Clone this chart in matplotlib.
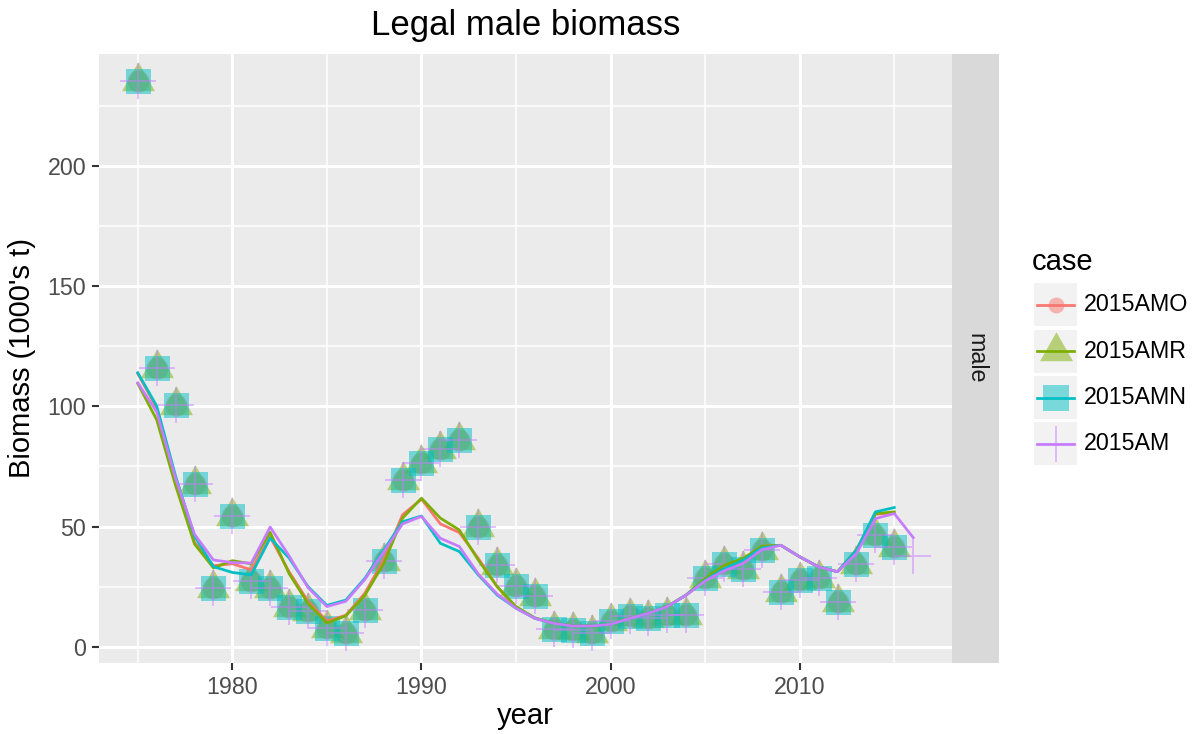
import matplotlib
matplotlib.use("Agg")
import matplotlib.pyplot as plt
from matplotlib.patches import Rectangle

plt.rcParams['font.family'] = ['Liberation Sans', 'DejaVu Sans']

# ---- data -------------------------------------------------------------
years = list(range(1975, 2016))
years_am = list(range(1975, 2017))

# observed legal male biomass (1000's t), shared by every case
obs = [235.3, 116.0, 100.7, 67.8, 24.6, 54.2, 27.4, 24.6, 16.4, 14.8,
       7.9, 5.7, 15.1, 35.6, 69.3, 76.6, 82.2, 85.9, 49.7, 34.0,
       25.2, 21.0, 7.5, 7.0, 5.8, 10.5, 12.8, 12.0, 13.3, 13.3,
       28.4, 34.6, 32.5, 40.2, 22.9, 27.7, 28.4, 18.7, 34.6, 46.4,
       41.5]
obs_am = obs + [37.7]

cases = ["2015AMO", "2015AMR", "2015AMN", "2015AM"]
colors = ["#F8766D", "#7CAE00", "#00BFC4", "#C77CFF"]

pred_amo = [113.6, 99.3, 69.0, 43.5, 33.7, 34.5, 32.0, 45.6, 31.2, 18.9,
            10.7, 13.1, 22.2, 36.1, 54.9, 61.4, 51.1, 47.5, 36.8, 25.0,
            16.2, 11.8, 9.7, 8.6, 8.6, 9.3, 11.8, 13.9, 16.7, 21.5,
            27.7, 33.2, 35.5, 41.8, 42.2, 37.4, 33.2, 31.2, 40.2, 55.1,
            55.7]
pred_amr = [109.5, 94.4, 67.0, 42.7, 32.8, 35.8, 34.5, 47.6, 30.4, 18.0,
            9.9, 12.8, 21.3, 34.5, 53.5, 61.8, 53.5, 48.6, 36.1, 25.0,
            16.7, 12.0, 9.8, 8.7, 8.6, 9.4, 11.9, 14.0, 16.8, 21.6,
            28.4, 33.9, 36.7, 41.8, 42.2, 37.4, 33.2, 31.2, 40.2, 55.4,
            56.1]
pred_amn = [114.0, 100.2, 71.0, 46.0, 33.3, 30.9, 29.9, 45.2, 36.9, 25.0,
            17.2, 19.4, 28.4, 40.2, 52.0, 54.4, 43.0, 39.6, 29.9, 21.5,
            16.0, 11.8, 9.7, 8.6, 8.6, 9.3, 11.8, 13.9, 16.7, 21.5,
            27.7, 32.5, 36.0, 41.1, 42.2, 37.4, 33.2, 31.2, 40.2, 56.1,
            57.9]
pred_am = [109.8, 97.7, 70.0, 46.8, 36.1, 35.0, 34.8, 49.8, 37.8, 24.6,
           16.7, 18.9, 27.9, 39.4, 51.1, 54.2, 45.1, 41.7, 30.3, 21.9,
           16.0, 11.8, 9.7, 8.6, 8.6, 9.3, 11.8, 13.9, 16.7, 21.5,
           27.4, 31.6, 34.6, 40.4, 42.2, 37.4, 33.2, 31.2, 38.8, 53.3,
           55.4, 45.4]

y_ticks = [0, 50, 100, 150, 200]
x_ticks = [1980, 1990, 2000, 2010]

# ---- figure geometry (pixels) ----------------------------------------
W, H, DPI = 1201, 734, 150
px = 72.0 / DPI          # points per pixel
p_left, p_right, p_top, p_bot = 99, 952, 54, 663
s_right = 999

FS_TICK, FS_AXIS, FS_TITLE, FS_LEG = 11.2, 14.0, 16.7, 11.2

fig = plt.figure(figsize=(W / DPI, H / DPI), dpi=DPI)
ax = fig.add_axes([p_left / W, 1 - p_bot / H,
                   (p_right - p_left) / W, (p_bot - p_top) / H])
ax.set_facecolor("#EBEBEB")
for s in ax.spines.values():
    s.set_visible(False)

ax.set_xlim(1972.95, 2018.05)
ax.set_ylim(-6.78, 246.6)
ax.set_xticks(x_ticks)
ax.set_yticks(y_ticks)
ax.set_xticks([1975, 1985, 1995, 2005, 2015], minor=True)
ax.set_yticks([25, 75, 125, 175, 225], minor=True)
ax.grid(True, which="major", color="white", lw=1.45)
ax.grid(True, which="minor", color="white", lw=0.75)
ax.set_axisbelow(True)
ax.tick_params(which="major", length=3.2, width=1.0, color="#333333",
               labelsize=FS_TICK, labelcolor="#4D4D4D", pad=3.0)
ax.tick_params(which="minor", length=0)

# triangle centred on its centroid
tri = [(0.0, 19.3), (-16.5, -9.7), (16.5, -9.7), (0.0, 19.3)]

point_styles = [
    dict(marker="o", ms=22 * px, mec="none"),
    dict(marker=tri, ms=38.6 * px, mec="none"),
    dict(marker="s", ms=25 * px, mec="none"),
    dict(marker="+", ms=37 * px, mew=0.9),
]

obs_sets = [(years, obs), (years, obs), (years, obs), (years_am, obs_am)]
pred_sets = [(years, pred_amo), (years, pred_amr), (years, pred_amn),
             (years_am, pred_am)]

for (xs, ys), c, st in zip(obs_sets, colors, point_styles):
    kw = dict(st)
    if kw["marker"] == "+":
        kw["mec"] = c
    else:
        kw["mfc"] = c
    ax.plot(xs, ys, ls="none", alpha=0.5, zorder=2, **kw)

for (xs, ys), c in zip(pred_sets, colors):
    ax.plot(xs, ys, color=c, lw=1.3, zorder=3, solid_joinstyle="round")

# ---- overlay in pixel coordinates: strip, titles, legend ----------------
ov = fig.add_axes([0, 0, 1, 1], facecolor="none")
ov.set_xlim(0, W)
ov.set_ylim(H, 0)
ov.axis("off")

ov.add_patch(Rectangle((p_right, p_top), s_right - p_right, p_bot - p_top,
                       facecolor="#D9D9D9", edgecolor="none"))
ov.text((p_right + s_right) / 2, (p_top + p_bot) / 2, "male", rotation=-90,
        ha="center", va="center", fontsize=FS_TICK, color="#1A1A1A")

ov.text((p_left + p_right) / 2, 25, "Legal male biomass", ha="center",
        va="center", fontsize=FS_TITLE, color="black")
ov.text((p_left + p_right) / 2, 716, "year", ha="center", va="center",
        fontsize=FS_AXIS, color="black")
ov.text(22, (p_top + p_bot) / 2, "Biomass (1000's t)", rotation=90,
        ha="center", va="center", fontsize=FS_AXIS, color="black")

# legend
ov.text(1032, 262, "case", ha="left", va="center", fontsize=FS_AXIS,
        color="black")
key_tops = [283, 329.5, 376, 422]
key_x0, key_w, key_h = 1034, 43, 43
legend_styles = [
    dict(marker="o", ms=16 * px, mec="none"),
    dict(marker=tri, ms=38.6 * px, mec="none"),
    dict(marker="s", ms=26 * px, mec="none"),
    dict(marker="+", ms=37 * px, mew=0.9),
]
for top, c, lab, st in zip(key_tops, colors, cases, legend_styles):
    ov.add_patch(Rectangle((key_x0, top), key_w, key_h,
                           facecolor="#F2F2F2", edgecolor="none"))
    cx, cy = key_x0 + key_w / 2, top + key_h / 2
    kw = dict(st)
    if kw["marker"] == "+":
        kw["mec"] = c
    else:
        kw["mfc"] = c
    ov.plot([cx], [cy], ls="none", alpha=0.5, **kw)
    ov.plot([key_x0 + 3, key_x0 + key_w - 3], [cy, cy], color=c, lw=1.3)
    ov.text(1084, cy, lab, ha="left", va="center", fontsize=FS_LEG,
            color="black")

fig.savefig("out.png", dpi=DPI)
